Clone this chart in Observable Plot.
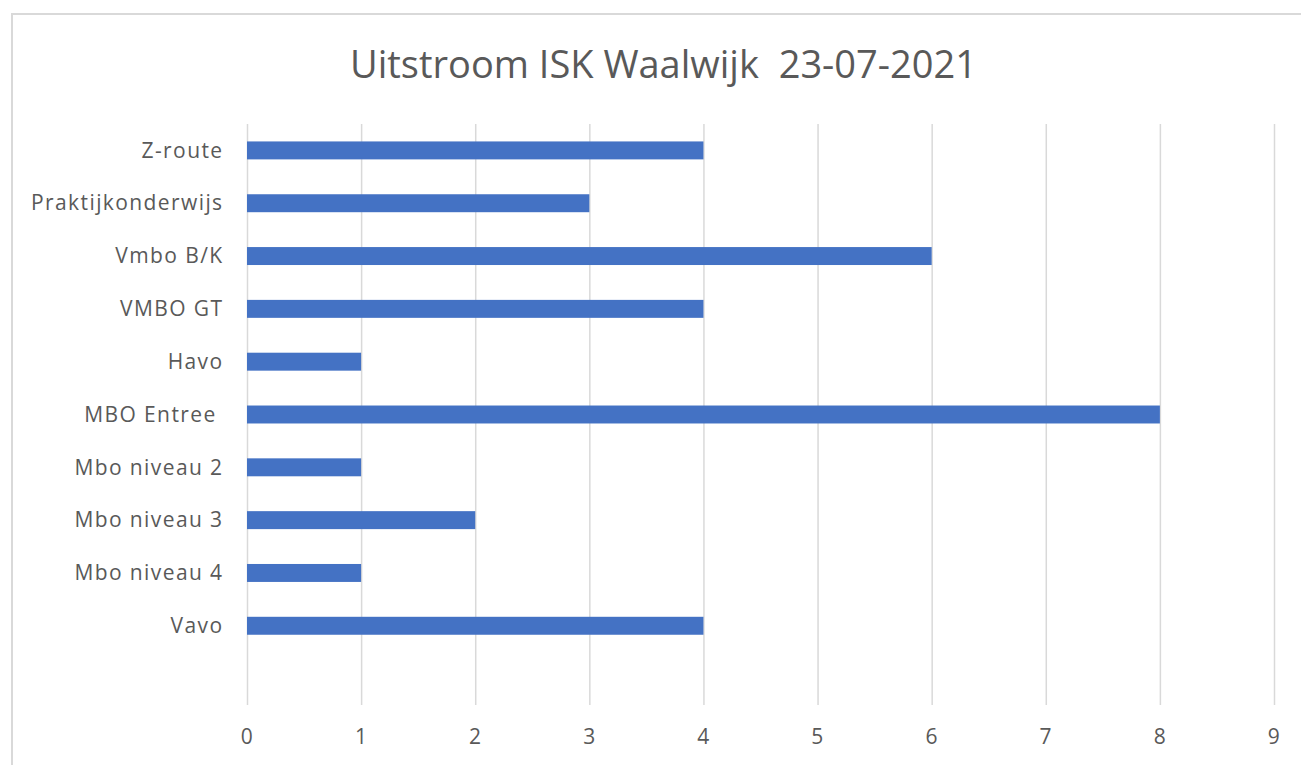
<!DOCTYPE html>
<html>
<head>
<meta charset="utf-8">
<script src="https://cdn.jsdelivr.net/npm/d3@7"></script>
<script src="https://cdn.jsdelivr.net/npm/@observablehq/plot@0.6"></script>
<style>
  html, body { margin: 0; padding: 0; background: #fff; }
  body { width: 1301px; height: 765px; overflow: hidden; position: relative; font-family: "Open Sans", sans-serif; }
  #frame { position: absolute; left: 11px; top: 13px; width: 1300px; height: 760px; border-left: 2px solid #d9d9d9; border-top: 2px solid #d9d9d9; box-sizing: border-box; }
  #title { position: absolute; left: 0; top: 38px; width: 1327px; text-align: center; font-size: 38px; color: #595959; white-space: pre; line-height: 50px; }
  #chart { position: absolute; left: 0; top: 100px; }
  #chart svg text { letter-spacing: 1.4px; }
</style>
</head>
<body>
<div id="frame"></div>
<div id="title">Uitstroom ISK Waalwijk  23-07-2021</div>
<div id="chart"></div>
<script>
const categories = ["Z-route", "Praktijkonderwijs", "Vmbo B/K", "VMBO GT", "Havo", "MBO Entree ", "Mbo niveau 2", "Mbo niveau 3", "Mbo niveau 4", "Vavo", " "];
const values = [4, 3, 6, 4, 1, 8, 1, 2, 1, 4, null];
const xTicks = [0, 1, 2, 3, 4, 5, 6, 7, 8, 9];

const data = categories.map((c, i) => ({category: c, value: values[i]})).filter(d => d.value != null);

const chart = Plot.plot({
  width: 1301,
  height: 665,
  marginTop: 24,
  marginBottom: 60,
  marginLeft: 247,
  marginRight: 27,
  style: {fontFamily: "'Open Sans', sans-serif", fontSize: "21px", color: "#595959", background: "transparent", overflow: "visible"},
  x: {domain: [0, 9], ticks: xTicks, label: null},
  y: {domain: categories, paddingInner: 0.66, paddingOuter: 0.33, align: 0.5, round: false, label: null},
  marks: [
    Plot.ruleX(xTicks, {stroke: "#d9d9d9", strokeWidth: 1.5}),
    Plot.barX(data, {x: "value", y: "category", fill: "#4472c4"}),
    Plot.axisX({ticks: xTicks, tickSize: 0, tickPadding: 24, fontSize: 21, fill: "#595959", label: null}),
    Plot.axisY({tickSize: 0, tickPadding: 24, fontSize: 21, fill: "#595959", label: null})
  ]
});
document.getElementById("chart").appendChild(chart);
</script>
</body>
</html>
